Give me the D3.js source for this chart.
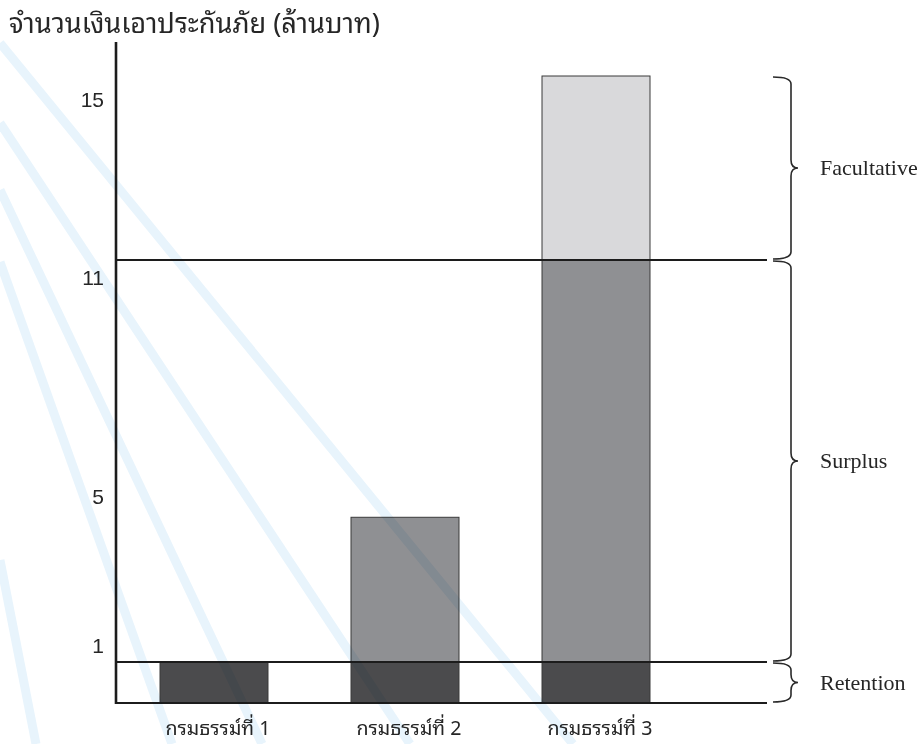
<!DOCTYPE html>
<html>
<head>
<meta charset="utf-8">
<script src="https://cdn.jsdelivr.net/npm/d3@7"></script>
<style>
  html, body { margin: 0; padding: 0; background: #fff; }
  svg { display: block; }
  .thai { font-family: "Noto Sans Thai Looped", "Loma", "Garuda", "Tlwg Typo", "Norasi", "Noto Sans Thai", "Noto Sans", sans-serif; fill: #262626; }
  .tick text { font-family: "Liberation Sans", Arial, sans-serif; font-size: 21px; fill: #262626; }
  .layer-label { font-family: "Liberation Serif", "Times New Roman", serif; font-size: 22px; fill: #262626; }
</style>
</head>
<body>
<div id="chart"></div>
<script>
// insured amount per policy, in million baht
const policies = ['กรมธรรม์ที่ 1', 'กรมธรรม์ที่ 2', 'กรมธรรม์ที่ 3']
const retention = [1, 1, 1]
const surplus = [0, 3.6, 10]
const facultative = [0, 0, 5]

const layerNames = ['Retention', 'Surplus', 'Facultative']
const layerTops = [1, 11, 16]

const tickLabels = ['1', '5', '11', '15']
const tickAt = [1.4, 5.1, 10.55, 15.35]

const title = 'จำนวนเงินเอาประกันภัย (ล้านบาท)'

const width = 922
const height = 744

const svg = d3.select('#chart')
  .append('svg')
  .attr('width', width)
  .attr('height', height)

// faint blue diagonal watermark stripes (background of the scan)
const stripes = [
  [[0, 43], [573, 744]],
  [[0, 123], [410, 744]],
  [[0, 190], [262, 744]],
  [[0, 262], [172, 744]],
  [[0, 560], [36, 744]]
]

const stripeLayer = svg.append('g')

// schematic axis: each layer gets its own stretch of the axis
const y = d3.scaleLinear()
  .domain([0, 1, 11, 16])
  .range([703, 662, 260, 76])

const x = d3.scaleBand()
  .domain(policies)
  .range([160, 650])
  .paddingInner(0.4346)
  .paddingOuter(0)

const rows = policies.map((p, i) => ({
  policy: p,
  Retention: retention[i],
  Surplus: surplus[i],
  Facultative: facultative[i]
}))

const stack = d3.stack().keys(layerNames)(rows)

const colour = d3.scaleOrdinal()
  .domain(layerNames)
  .range(['#4b4b4d', '#8f9093', '#d9d9db'])

const axisLeft = 116
const axisRight = 767

// bars
svg.append('g')
  .selectAll('g')
  .data(stack)
  .join('g')
  .attr('fill', d => colour(d.key))
  .selectAll('rect')
  .data(d => d.filter(s => s[1] > s[0]))
  .join('rect')
  .attr('x', d => x(d.data.policy))
  .attr('width', x.bandwidth())
  .attr('y', d => y(d[1]))
  .attr('height', d => y(d[0]) - y(d[1]))
  .attr('stroke', '#3a3a3a')
  .attr('stroke-width', 1)

// layer boundaries
svg.append('g')
  .selectAll('line')
  .data([0, ...layerTops.slice(0, 2)])
  .join('line')
  .attr('x1', axisLeft)
  .attr('x2', axisRight)
  .attr('y1', d => y(d))
  .attr('y2', d => y(d))
  .attr('stroke', '#1c1c1c')
  .attr('stroke-width', 2.2)

// y axis
const yAxis = d3.axisLeft(y)
  .tickValues(tickAt)
  .tickFormat((d, i) => tickLabels[i])
  .tickSize(0)
  .tickPadding(12)

svg.append('g')
  .attr('transform', `translate(${axisLeft},0)`)
  .call(yAxis)
  .call(g => g.select('.domain').remove())

svg.append('line')
  .attr('x1', axisLeft)
  .attr('x2', axisLeft)
  .attr('y1', 42)
  .attr('y2', y(0) + 1)
  .attr('stroke', '#1c1c1c')
  .attr('stroke-width', 2.6)

// shrink or grow a text until it covers the wanted width
function fitWidth (sel, target) {
  sel.each(function () {
    const len = this.getComputedTextLength()
    const fs = parseFloat(this.getAttribute('font-size'))
    if (len > 0) this.setAttribute('font-size', (fs * target / len).toFixed(2))
  })
}

// category labels
svg.append('g')
  .selectAll('text')
  .data(policies)
  .join('text')
  .attr('class', 'thai')
  .attr('x', d => x(d) + x.bandwidth() / 2 + 4)
  .attr('y', 735)
  .attr('text-anchor', 'middle')
  .attr('font-size', 18)
  .text(d => d)
  .call(fitWidth, 105)

svg.append('text')
  .attr('class', 'thai')
  .attr('x', 9)
  .attr('y', 33)
  .attr('font-size', 24)
  .text(title)
  .call(fitWidth, 371)

// braces on the right
const bottoms = [0, ...layerTops.slice(0, 2)]
const braces = layerNames.map((name, i) => ({ name, top: y(layerTops[i]), bottom: y(bottoms[i]) }))

function bracePath (top, bottom) {
  const x0 = 773
  const x1 = 791
  const tip = 798
  const mid = (top + bottom) / 2
  const r = Math.min(8, (bottom - top) / 5)
  return `M${x0},${top + 1}` +
    `Q${x1},${top + 1} ${x1},${top + r}` +
    `L${x1},${mid - r}` +
    `Q${x1},${mid} ${tip},${mid}` +
    `Q${x1},${mid} ${x1},${mid + r}` +
    `L${x1},${bottom - r}` +
    `Q${x1},${bottom - 1} ${x0},${bottom - 1}`
}

const brace = svg.append('g')
  .selectAll('g')
  .data(braces)
  .join('g')

brace.append('path')
  .attr('d', d => bracePath(d.top, d.bottom))
  .attr('fill', 'none')
  .attr('stroke', '#2a2a2a')
  .attr('stroke-width', 1.6)

brace.append('text')
  .attr('class', 'layer-label')
  .attr('x', 820)
  .attr('y', d => (d.top + d.bottom) / 2 + 7)
  .text(d => d.name)

// stripes go over everything, blended so the bars only get a slight tint
stripeLayer.raise()
  .style('mix-blend-mode', 'multiply')
  .selectAll('path')
  .data(stripes)
  .join('path')
  .attr('d', d3.line())
  .attr('fill', 'none')
  .attr('stroke', '#e8f4fc')
  .attr('stroke-width', 9)
</script>
</body>
</html>
